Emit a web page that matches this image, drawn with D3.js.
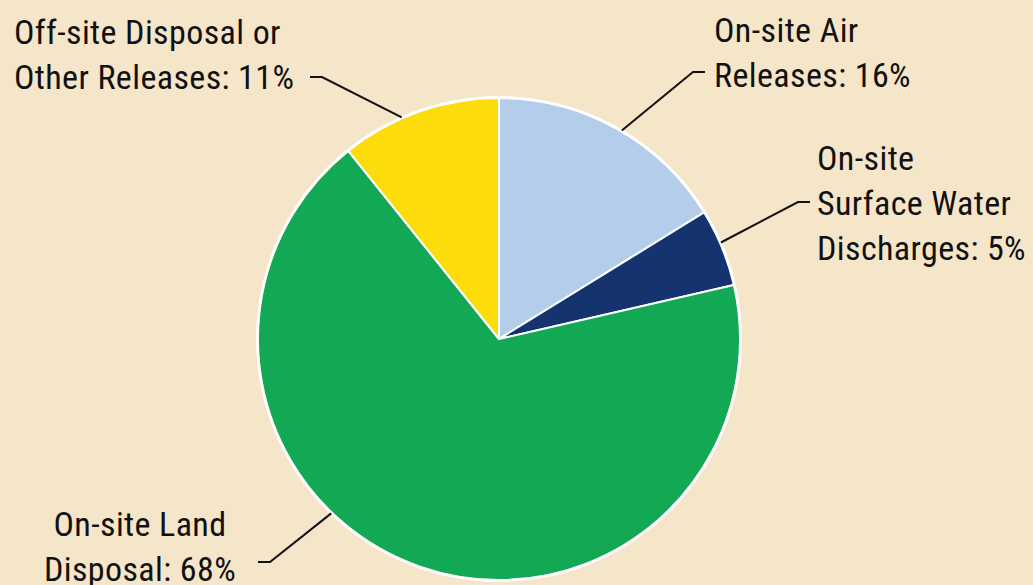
<!DOCTYPE html>
<html>
<head>
<meta charset="utf-8">
<script src="https://cdn.jsdelivr.net/npm/d3@7"></script>
<style>
  html, body { margin: 0; padding: 0; background: #F5E5C9; }
  svg { display: block; }
  text { font-family: "Liberation Sans Narrow", "Roboto Condensed", "DejaVu Sans Condensed", sans-serif; font-size: 34px; letter-spacing: 0.4px; fill: #111; }
</style>
</head>
<body>
<svg id="chart" width="1033" height="585"></svg>
<script>
// ---- data ----
const categories = ["On-site Air Releases", "On-site Surface Water Discharges", "On-site Land Disposal", "Off-site Disposal or Other Releases"];
const values = [16.2, 5.2, 67.85, 10.75];
const labelLines = [
  ["On-site Air", "Releases: 16%"],
  ["On-site", "Surface Water", "Discharges: 5%"],
  ["On-site Land", "Disposal: 68%"],
  ["Off-site Disposal or", "Other Releases: 11%"]
];
const colors = ["#B3CDEA", "#14336F", "#12A854", "#FCDC0B"];

// ---- layout ----
const W = 1033, H = 585;
const cx = 499, cy = 339, R = 241;
const lineH = 45;
const labelLayout = [
  { x: 714, y: 42, anchor: "start", leader: [[705, 72], [693, 72]], rimAngle: 30.5 },
  { x: 817, y: 170, anchor: "start", leader: [[810, 202], [798, 202]], rimAngle: 66.5 },
  { x: 140, y: 536, anchor: "middle", leader: [[258, 562], [270, 562]], rimAngle: 223.9 },
  { x: 14, y: 44, anchor: "start", leader: [[310, 77], [322, 77]], rimAngle: 336.3 }
];

const svg = d3.select("#chart");
svg.append("rect").attr("width", W).attr("height", H).attr("fill", "#F5E5C9");

const pie = d3.pie().sort(null).value(d => d)(values);
const arc = d3.arc().innerRadius(0).outerRadius(R);
const color = d3.scaleOrdinal().domain(d3.range(categories.length)).range(colors);

const g = svg.append("g").attr("transform", `translate(${cx},${cy})`);
g.append("circle").attr("r", R + 2).attr("fill", "#ffffff");
g.selectAll("path.slice")
  .data(pie)
  .join("path")
  .attr("class", "slice")
  .attr("d", arc)
  .attr("fill", (d, i) => color(i))
  .attr("stroke", "#ffffff")
  .attr("stroke-width", 2)
  .attr("stroke-linejoin", "round");

labelLayout.forEach((L, i) => {
  const a = L.rimAngle * Math.PI / 180;
  const rim = [cx + (R + 1) * Math.sin(a), cy - (R + 1) * Math.cos(a)];
  const pts = [...L.leader, rim];
  svg.append("path")
    .attr("d", d3.line()(pts))
    .attr("fill", "none")
    .attr("stroke", "#111")
    .attr("stroke-width", 2);
});

labelLayout.forEach((L, i) => {
  const t = svg.append("text").attr("text-anchor", L.anchor);
  labelLines[i].forEach((line, j) => {
    t.append("tspan").attr("x", L.x).attr("y", L.y + j * lineH).text(line);
  });
});
</script>
</body>
</html>
